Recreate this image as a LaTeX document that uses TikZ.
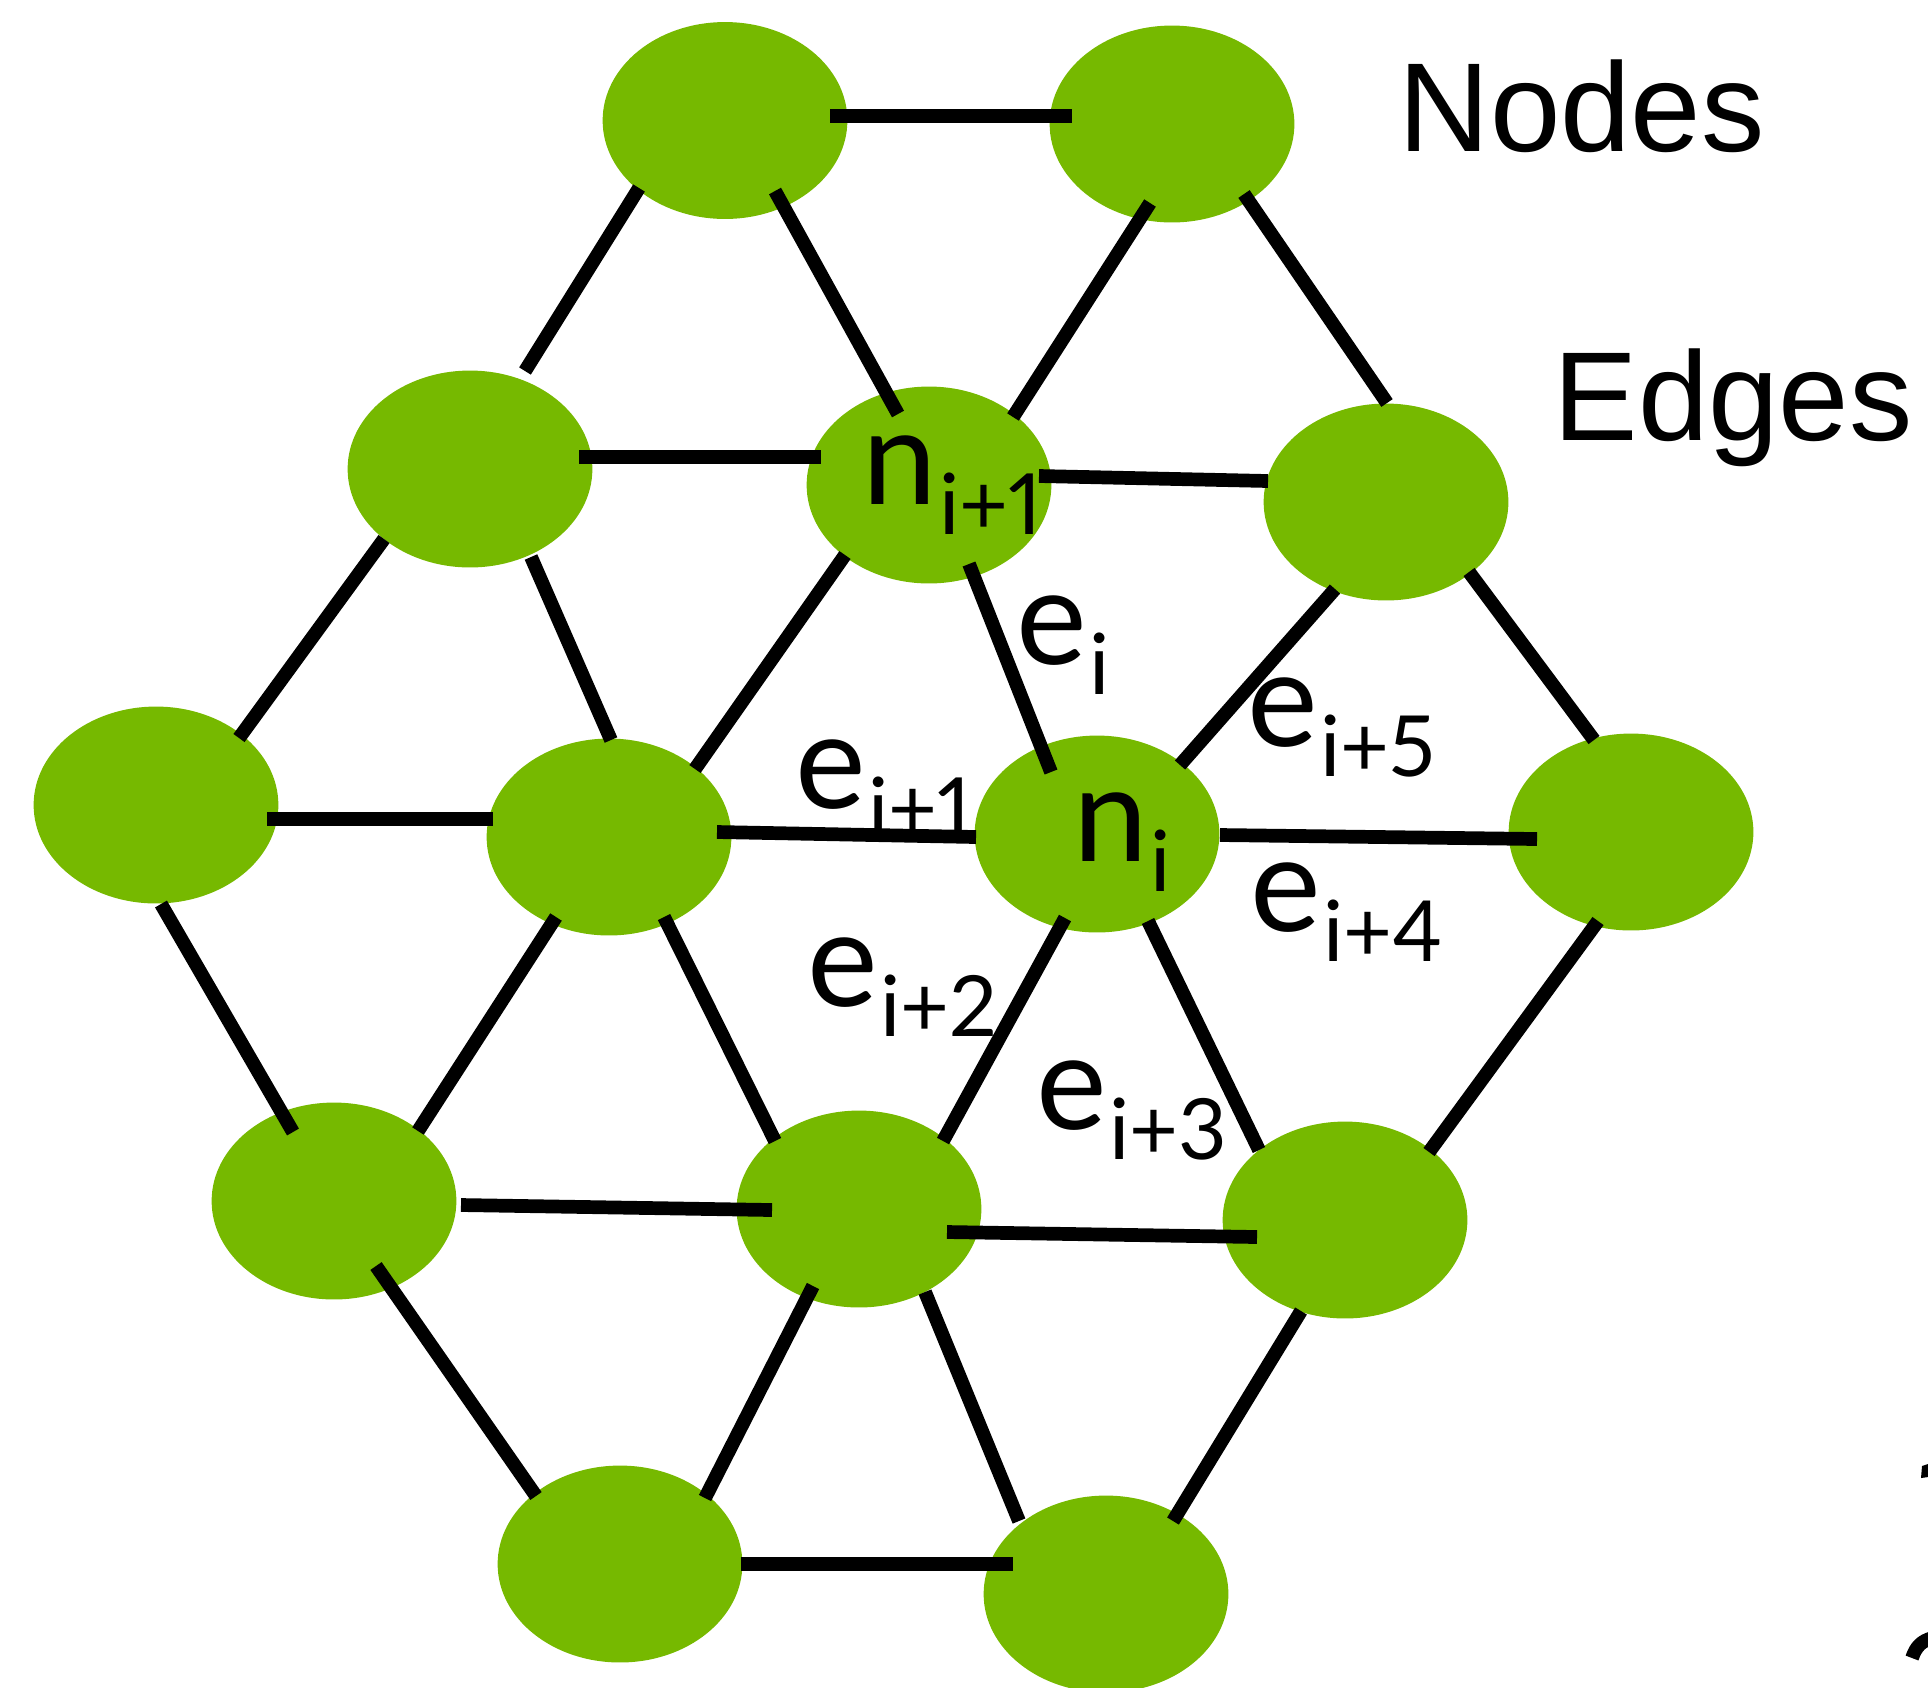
\documentclass[tikz,border=0pt]{standalone}
\usepackage{fontspec}
\setmainfont{Liberation Sans}
\newfontfamily\labfont[Numbers=Proportional]{Lato}
\usetikzlibrary{shapes.geometric,calc}
\definecolor{nvgreen}{HTML}{76B900}
% symbol with a lowered index
\newcommand\idx[2]{{\fontsize{38pt}{40pt}\selectfont #1}\kern0.5pt\raisebox{-8.8pt}{\fontsize{24pt}{26pt}\selectfont #2}}
\begin{document}
\begin{tikzpicture}[
  x=0.01cm, y=-0.01cm,
  blob/.style={ellipse, fill=nvgreen, inner sep=0pt, minimum width=2.446cm, minimum height=1.968cm},
  link/.style={line width=3.9pt, black},
  lbl/.style={anchor=base west, inner sep=0pt, font=\labfont},
  heading/.style={anchor=base west, inner sep=0pt, font=\fontsize{36pt}{40pt}\selectfont}
]
\useasboundingbox (0,0) rectangle (1928,1687);
\clip (0,0) rectangle (1928,1687);

% mesh nodes
\node[blob] (A) at (725,120.5) {};
\node[blob] (B) at (1172,124) {};
\node[blob] (C) at (470,469) {};
\node[blob] (D) at (929,485) {};
\node[blob] (E) at (1386,502) {};
\node[blob] (F) at (156,805) {};
\node[blob] (G) at (609,837) {};
\node[blob] (H) at (1097,834) {};
\node[blob] (I) at (1631,832) {};
\node[blob] (J) at (334,1201) {};
\node[blob] (K) at (859,1209) {};
\node[blob] (L) at (1345,1220) {};
\node[blob] (M) at (620,1564) {};
\node[blob] (N) at (1106,1594) {};

% labels
\node[lbl] (lnip) at (862,504) {\idx{n}{i+1}};
\node[lbl] (lni) at (1073,861) {\idx{n}{i}};
\node[lbl] (le0) at (1016,664) {\idx{e}{i}};
\node[lbl] (le1) at (795,808) {\idx{e}{i+1}};
\node[lbl] (le2) at (807,1006) {\idx{e}{i+2}};
\node[lbl] (le3) at (1036,1129) {\idx{e}{i+3}};
\node[lbl] (le4) at (1250,931) {\idx{e}{i+4}};
\node[lbl] (le5) at (1247,746) {\idx{e}{i+5}};

\node[heading] (tnodes) at (1398,151) {Nodes};
\node[heading] (tedges) at (1553,440) {Edges};

% mesh edges
\draw[link] ($(A)+(105,-4.5)$) -- ($(B)+(-100,-8)$);
\draw[link] ($(A)+(-86,67.5)$) -- ($(C)+(55,-98)$);
\draw[link] ($(A)+(50,70.5)$) -- ($(D)+(-31,-71)$);
\draw[link] ($(B)+(-22,79)$) -- ($(D)+(84,-68)$);
\draw[link] ($(B)+(72,70)$) -- ($(E)+(1,-99)$);
\draw[link] ($(C)+(109,-12)$) -- ($(D)+(-108,-28)$);
\draw[link] ($(D)+(110,-9)$) -- ($(E)+(-118,-21)$);
\draw[link] ($(C)+(-86,70)$) -- ($(F)+(83,-67)$);
\draw[link] ($(C)+(61,88)$) -- ($(G)+(2,-97)$);
\draw[link] ($(D)+(-84,70)$) -- ($(G)+(86,-68)$);
\draw[link] ($(D)+(40,79)$) -- ($(H)+(-46,-62)$);
\draw[link] ($(E)+(-51,87)$) -- ($(H)+(83,-69)$);
\draw[link] ($(E)+(83,70)$) -- ($(I)+(-37,-92)$);
\draw[link] ($(F)+(111,14)$) -- ($(G)+(-116,-18)$);
\draw[link] ($(G)+(108,-5)$) -- ($(H)+(-121,3)$);
\draw[link] ($(H)+(123,1)$) -- ($(I)+(-94,7)$);
\draw[link] ($(F)+(5,99)$) -- ($(J)+(-41,-69)$);
\draw[link] ($(G)+(-53,80)$) -- ($(J)+(84,-70)$);
\draw[link] ($(G)+(55,80)$) -- ($(K)+(-84,-68)$);
\draw[link] ($(H)+(-32,84)$) -- ($(K)+(84,-68)$);
\draw[link] ($(H)+(51,87)$) -- ($(L)+(-86,-70)$);
\draw[link] ($(I)+(-33,89)$) -- ($(L)+(84,-68)$);
\draw[link] ($(J)+(127,4)$) -- ($(K)+(-87,1)$);
\draw[link] ($(K)+(88,23)$) -- ($(L)+(-88,17)$);
\draw[link] ($(J)+(42,65)$) -- ($(M)+(-84,-68)$);
\draw[link] ($(K)+(-46,77)$) -- ($(M)+(85,-66)$);
\draw[link] ($(K)+(66,83)$) -- ($(N)+(-87,-73)$);
\draw[link] ($(L)+(-44,91)$) -- ($(N)+(67,-73)$);
\draw[link] ($(M)+(121,0)$) -- ($(N)+(-93,-30)$);

% glyph fragments at the right border
\fill (1922,1466) -- (1928,1464) -- (1928,1477) -- (1921,1478) -- cycle;
\draw[line width=3.9pt] (1912,1658) .. controls (1916,1646) and (1922,1641) .. (1932,1638);
\end{tikzpicture}
\end{document}
